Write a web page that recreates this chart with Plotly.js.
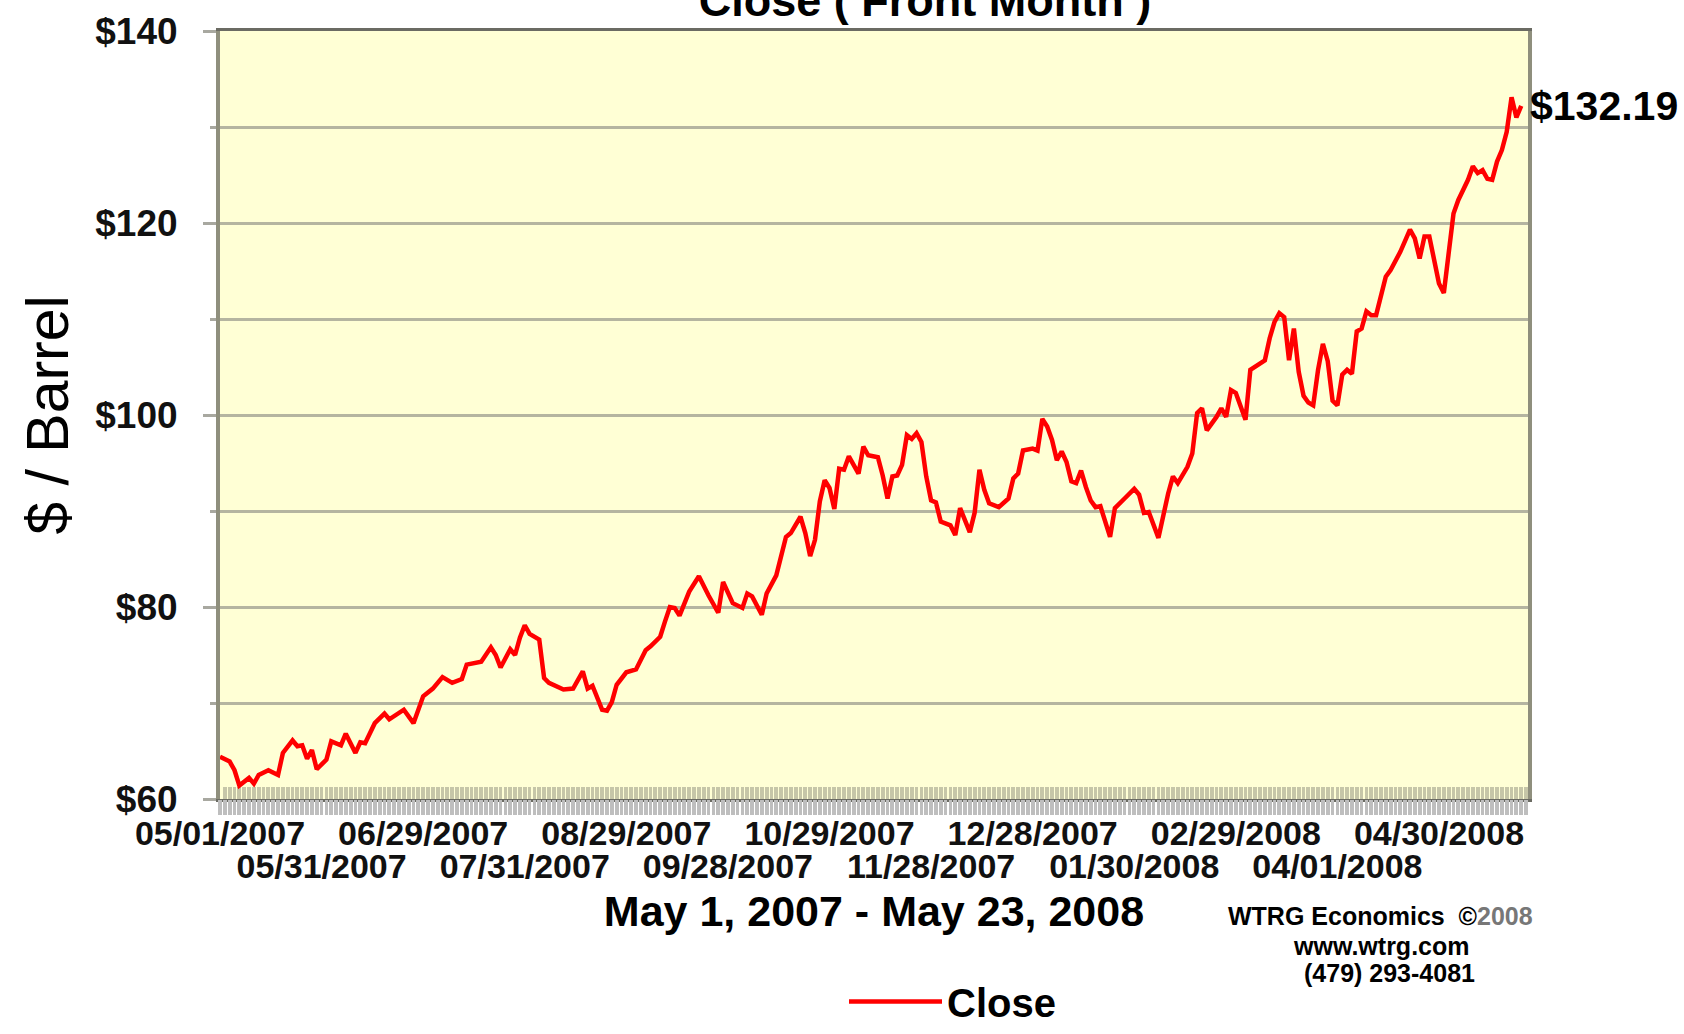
<!DOCTYPE html>
<html>
<head>
<meta charset="utf-8">
<script src="https://cdn.plot.ly/plotly-3.0.1.min.js"></script>
<style>
  html, body { margin: 0; padding: 0; background: #ffffff; }
  #chart { width: 1684px; height: 1034px; }
</style>
</head>
<body>
<div id="chart"></div>
<script>
// Trading-day index (0 = 05/01/2007, 269 = 05/23/2008) and WTI close
const tradingDay = [0,2,3,4,6,7,8,10,12,13,15,16,17,18,19,20,22,23,25,26,28,29,30,32,34,35,38,40,42,44,46,48,50,51,54,56,57,58,60,61,62,63,64,66,67,68,71,72,73,75,76,77,79,80,81,82,84,86,88,89,91,
  92,93,94,95,97,99,101,103,104,106,108,109,110,112,113,115,117,118,120,121,122,123,124,125,126,127,128,129,130,131,132,133,134,136,137,138,139,140,141,142,143,144,145,146,147,148,149,151,152,153,154,155,156,157,158,159,161,163,164,165,166,168,169,170,171,172,173,174,175,176,177,178,179,180,181,182,
  184,185,187,189,190,191,192,193,194,196,197,198,200,201,202,203,204,206,207,208,209,210,211,212,213,215,216,217,218,219,220,221,222,223,224,225,226,227,228,229,230,231,232,233,234,235,236,237,238,239,241,242,244,246,247,248,249,250,251,252,253,254,255,256,257,258,259,260,261,262,263,264,265,266,267,268,269];
const closePrice = [64.4,63.9,63.0,61.4,62.2,61.6,62.5,63.0,62.5,64.8,66.1,65.5,65.6,64.2,65.1,63.1,64.1,66.0,65.6,66.8,64.8,65.9,65.8,67.9,68.9,68.3,69.3,67.9,70.7,71.5,72.7,72.1,72.5,74.0,74.3,75.8,75.0,73.7,75.6,75.0,76.8,78.1,77.2,76.6,72.6,72.1,71.4,71.4,71.5,73.3,71.5,71.8,69.3,69.2,70.1,71.9,73.2,73.5,75.5,75.9,76.9,
  78.5,80.0,79.9,79.1,81.6,83.2,81.2,79.4,82.6,80.4,79.9,81.4,81.1,79.2,81.4,83.3,87.3,87.7,89.4,87.7,85.3,87.0,91.0,93.2,92.4,90.2,94.4,94.3,95.7,94.8,93.9,96.7,95.8,95.6,93.7,91.3,93.6,93.7,94.8,97.9,97.5,98.1,97.2,93.6,91.1,90.9,88.9,88.5,87.5,90.3,89.1,87.8,89.8,94.3,92.2,90.8,90.4,91.3,93.4,93.9,96.3,96.5,96.3,99.6,98.8,97.4,95.3,96.2,95.1,93.1,92.9,94.2,92.5,91.1,90.4,90.5,
  87.3,90.3,91.3,92.3,91.7,89.8,89.9,88.5,87.2,91.8,93.6,92.9,94.6,96.0,100.2,100.7,98.4,99.8,100.7,99.8,102.6,102.3,100.9,99.5,104.7,105.4,105.7,108.0,109.7,110.6,110.2,105.7,109.0,104.5,102.0,101.3,101.0,104.7,107.4,105.6,101.5,101.0,104.2,104.7,104.3,108.7,109.0,110.8,110.4,110.4,114.4,115.1,117.0,119.3,118.4,116.3,118.6,118.6,116.1,113.7,112.7,116.7,121.0,122.4,123.4,124.5,125.9,125.2,125.5,124.6,124.5,126.4,127.6,129.5,133.1,131.0,132.19];

const row1TickDays = [0,42,84,126,168,210,252];
const row1TickLabels = ['05/01/2007','06/29/2007','08/29/2007','10/29/2007','12/28/2007','02/29/2008','04/30/2008'];
const row2TickDays = [21,63,105,147,189,231];
const row2TickLabels = ['05/31/2007','07/31/2007','09/28/2007','11/28/2007','01/30/2008','04/01/2008'];
const yTickVals = [60,80,100,120,140];
const yTickText = ['$60','$80','$100','$120','$140'];

const FONT = 'Liberation Sans, Arial, Helvetica, sans-serif';
const lastIdx = closePrice.length - 1;

const traces = [
  {
    type: 'scatter', mode: 'lines', name: 'Close',
    x: tradingDay, y: closePrice,
    line: { color: '#FF0000', width: 4.5 },
    xaxis: 'x', yaxis: 'y', hoverinfo: 'x+y'
  },
  {
    type: 'scatter', mode: 'lines', x: [], y: [],
    xaxis: 'x2', yaxis: 'y', showlegend: false, hoverinfo: 'skip'
  }
];

const tickFont = { family: FONT, size: 34, color: '#111111', weight: 'bold' };
const xRange = [0, 270.4];

const layout = {
  width: 1684, height: 1034,
  margin: { l: 220, r: 156, t: 31, b: 235, pad: 0 },
  paper_bgcolor: '#FFFFFF',
  plot_bgcolor: '#FFFFD5',
  showlegend: true,
  title: {
    text: 'Close ( Front Month )',
    font: { family: FONT, size: 45, color: '#000000', weight: 'bold' },
    xref: 'container', yref: 'container', x: 925 / 1684, xanchor: 'center', y: 1, yanchor: 'middle'
  },
  xaxis: {
    type: 'linear', range: xRange,
    tickmode: 'array', tickvals: row1TickDays, ticktext: row1TickLabels,
    ticks: 'inside', ticklen: 12, tickwidth: 3.8, tickcolor: '#C6C6A8',
    minor: { tickmode: 'linear', tick0: 0, dtick: 1, ticks: 'inside', ticklen: 12, tickwidth: 3.8, tickcolor: '#C6C6A8', showgrid: false },
    showgrid: false, zeroline: false,
    showline: true, linecolor: '#6B6B63', linewidth: 3, mirror: true,
    layer: 'below traces',
    tickfont: tickFont, ticklabelstandoff: 2,
    title: { text: 'May 1, 2007 - May 23, 2008', font: { family: FONT, size: 43, color: '#000000', weight: 'bold' }, standoff: 46 },
    fixedrange: true
  },
  xaxis2: {
    type: 'linear', range: xRange, overlaying: 'x', anchor: 'y', side: 'bottom',
    tickmode: 'array', tickvals: row2TickDays, ticktext: row2TickLabels,
    ticks: 'outside', ticklen: 15, tickwidth: 3.8, tickcolor: '#BEBEBE',
    minor: { tickmode: 'linear', tick0: 0, dtick: 1, ticks: 'outside', ticklen: 15, tickwidth: 3.8, tickcolor: '#BEBEBE', showgrid: false },
    showgrid: false, zeroline: false, showline: false,
    tickfont: tickFont, ticklabelstandoff: 22,
    fixedrange: true
  },
  yaxis: {
    range: [60, 140],
    tickmode: 'array', tickvals: yTickVals, ticktext: yTickText,
    ticks: 'outside', ticklen: 13, tickwidth: 3, tickcolor: '#A8A8A0',
    minor: { tickmode: 'linear', tick0: 0, dtick: 10, ticks: 'outside', ticklen: 6, tickwidth: 3, tickcolor: '#A8A8A0', showgrid: true, gridcolor: '#B5B5A0', gridwidth: 3 },
    showgrid: true, gridcolor: '#B5B5A0', gridwidth: 3,
    zeroline: false,
    showline: true, linecolor: '#8F8F7D', linewidth: 4, mirror: true,
    tickfont: { family: FONT, size: 37, color: '#111111', weight: 'bold' },
    ticklabelstandoff: 18,
    title: { text: '$ / Barrel', font: { family: FONT, size: 59, color: '#000000' }, standoff: 9 },
    fixedrange: true
  },
  legend: {
    orientation: 'h', xref: 'container', yref: 'container',
    x: 844 / 1684, xanchor: 'left', y: -0.011, yanchor: 'bottom',
    font: { family: FONT, size: 40, color: '#000000', weight: 'bold' },
    itemwidth: 93, bgcolor: 'rgba(0,0,0,0)', borderwidth: 0
  },
  annotations: [
    {
      x: tradingDay[lastIdx], y: closePrice[lastIdx], xref: 'x', yref: 'y',
      text: '$' + closePrice[lastIdx].toFixed(2), showarrow: false,
      xanchor: 'left', yanchor: 'middle', xshift: 7,
      font: { family: FONT, size: 41, color: '#000000', weight: 'bold' }
    },
    {
      x: (1380 - 220) / 1308, y: (799 - 916) / 768, xref: 'paper', yref: 'paper',
      text: 'WTRG Economics\u00a0 \u00a9<span style="color:#777">2008</span>', showarrow: false,
      xanchor: 'center', yanchor: 'middle',
      font: { family: FONT, size: 25, color: '#000000', weight: 'bold' }
    },
    {
      x: (1381 - 220) / 1308, y: (799 - 946) / 768, xref: 'paper', yref: 'paper',
      text: 'www.wtrg.com', showarrow: false, xanchor: 'center', yanchor: 'middle',
      font: { family: FONT, size: 25, color: '#000000', weight: 'bold' }
    },
    {
      x: (1389 - 220) / 1308, y: (799 - 973) / 768, xref: 'paper', yref: 'paper',
      text: '(479) 293-4081', showarrow: false, xanchor: 'center', yanchor: 'middle',
      font: { family: FONT, size: 25, color: '#000000', weight: 'bold' }
    }
  ]
};

Plotly.newPlot('chart', traces, layout, { displayModeBar: false, staticPlot: true });
</script>
</body>
</html>
